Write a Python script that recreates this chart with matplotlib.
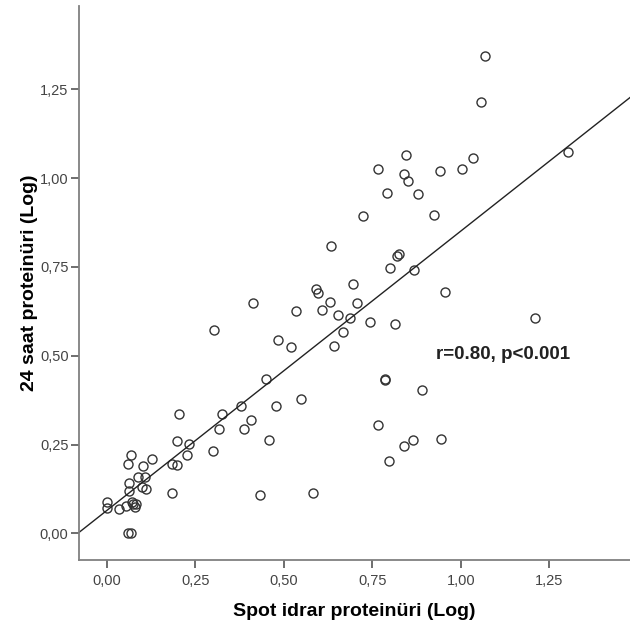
import numpy as np
import matplotlib.pyplot as plt

plt.rcParams['font.family'] = ['Liberation Sans', 'DejaVu Sans']

# spot urine protein (log) vs 24 h urine protein (log)
spot = [1.068, 1.057, 1.303, 0.846, 0.765, 0.839, 0.850, 0.941, 1.003, 1.034,
        0.791, 0.880, 0.724, 0.924, 0.633, 0.820, 0.826, 0.800, 0.868, 0.591,
        0.598, 0.697, 0.631, 0.706, 0.607, 0.956, 0.654, 0.687, 0.744, 0.813,
        1.210, 0.668, 0.642, 0.785, 0.787, 0.890, 0.767, 0.841, 0.866, 0.944,
        0.798, 0.582, 0.412, 0.535, 0.483, 0.521, 0.450, 0.549, 0.478, 0.458,
        0.434, 0.302, 0.379, 0.204, 0.325, 0.407, 0.316, 0.389, 0.199, 0.233,
        0.301, 0.228, 0.069, 0.059, 0.103, 0.128, 0.186, 0.199, 0.088, 0.108,
        0.064, 0.099, 0.110, 0.063, 0.186, 0.000, 0.000, 0.036, 0.056, 0.071,
        0.075, 0.080, 0.083, 0.061, 0.068]
urine24 = [1.343, 1.214, 1.073, 1.066, 1.026, 1.012, 0.993, 1.020, 1.026, 1.057,
           0.957, 0.956, 0.893, 0.896, 0.808, 0.780, 0.786, 0.747, 0.742, 0.687,
           0.676, 0.702, 0.652, 0.648, 0.629, 0.679, 0.615, 0.605, 0.596, 0.589,
           0.605, 0.568, 0.527, 0.432, 0.435, 0.403, 0.305, 0.247, 0.263, 0.265,
           0.204, 0.113, 0.648, 0.627, 0.544, 0.524, 0.436, 0.377, 0.359, 0.263,
           0.109, 0.572, 0.360, 0.335, 0.335, 0.319, 0.293, 0.293, 0.260, 0.253,
           0.233, 0.222, 0.222, 0.195, 0.190, 0.209, 0.195, 0.192, 0.159, 0.159,
           0.142, 0.131, 0.125, 0.119, 0.113, 0.087, 0.070, 0.068, 0.078, 0.089,
           0.082, 0.073, 0.084, 0.002, 0.002]

# fitted line
slope = 0.787
intercept = 0.064

ticks = [0.0, 0.25, 0.5, 0.75, 1.0, 1.25]
tick_labels = ['0,00', '0,25', '0,50', '0,75', '1,00', '1,25']

fig = plt.figure(figsize=(6.3, 6.22), dpi=100)
ax = fig.add_axes([0.1254, 0.0997, 0.8746, 0.8907])

ax.plot(spot, urine24, 'o', mfc='none', mec='#333333', ms=6.5, mew=1.0)

xmin, xmax = -0.078, 1.478
xs = np.array([xmin, xmax])
ax.plot(xs, intercept + slope * xs, color='#222222', lw=1.0)

ax.set_xlim(xmin, xmax)
ax.set_ylim(-0.075, 1.485)
ax.set_xticks(ticks)
ax.set_xticklabels(tick_labels)
ax.set_yticks(ticks)
ax.set_yticklabels(tick_labels)

for s in ['top', 'right']:
    ax.spines[s].set_visible(False)
for s in ['left', 'bottom']:
    ax.spines[s].set_color('#808080')
    ax.spines[s].set_linewidth(1.3)

ax.tick_params(direction='out', length=6, width=1.2, color='#555555',
               labelsize=10.5, labelcolor='#444444')
ax.tick_params(axis='x', pad=4)
ax.tick_params(axis='y', pad=1.5)

ax.set_xlabel('Spot idrar proteinüri (Log)', fontsize=14, fontweight='bold', labelpad=11)
ax.set_ylabel('24 saat proteinüri (Log)', fontsize=14, fontweight='bold', labelpad=1)

ax.text(0.93, 0.503, 'r=0.80, p<0.001', fontsize=13.5, fontweight='bold',
        color='#222222', va='center', ha='left')

fig.savefig('out.png', dpi=100)
